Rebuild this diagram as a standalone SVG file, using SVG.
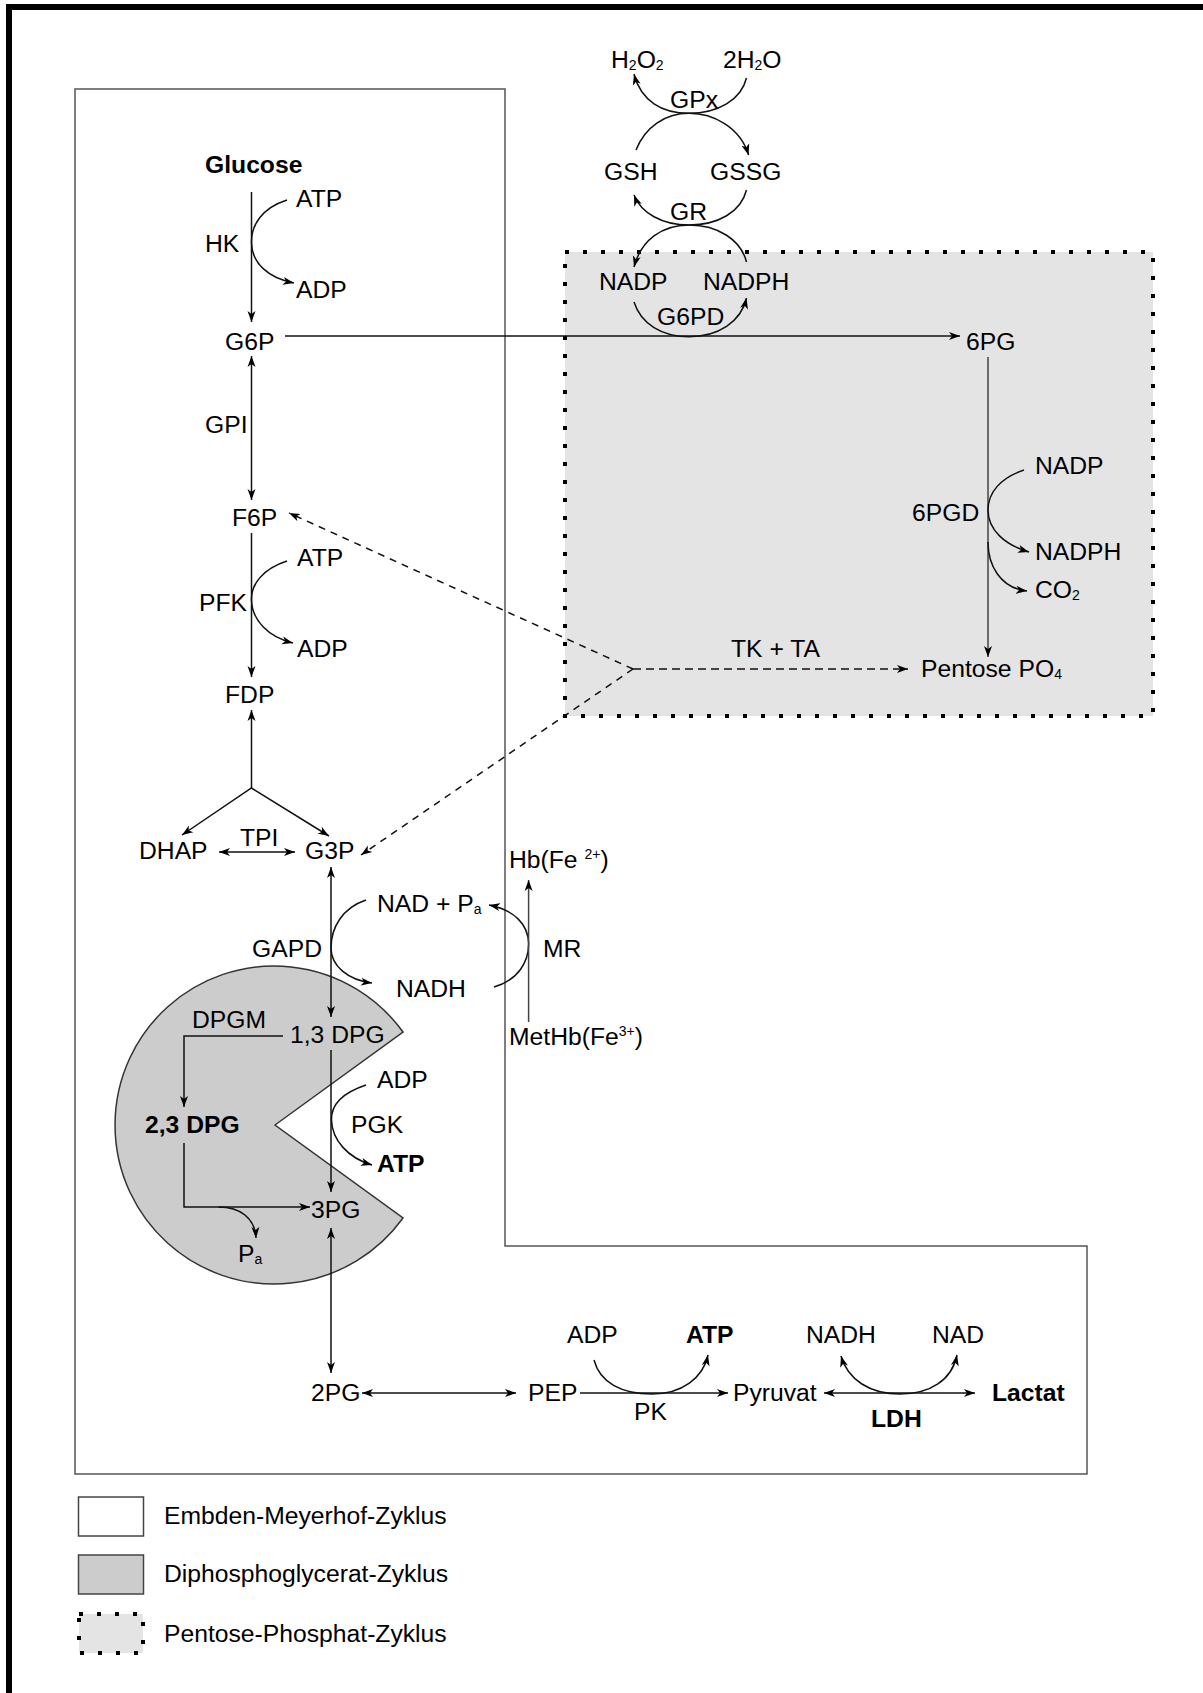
<svg xmlns="http://www.w3.org/2000/svg" width="1203" height="1693" viewBox="0 0 1203 1693">
<style>
text{font-family:"Liberation Sans",Arial,sans-serif;font-size:24.7px;fill:#000}
.b{font-weight:bold}
.s{font-size:14px}
.ln{fill:none;stroke:#111;stroke-width:1.5}
.g{stroke:#444}
.ds{fill:none;stroke:#111;stroke-width:1.5;stroke-dasharray:7 6}
.dot{stroke:#000;stroke-width:4;stroke-dasharray:4 14}
</style>
<defs>
<marker id="a" markerUnits="userSpaceOnUse" markerWidth="12" markerHeight="9" refX="11" refY="4" orient="auto-start-reverse" viewBox="0 0 12 8">
<path d="M0,0 L11,4 L0,8 L3,4 z" fill="#000"/>
</marker>
</defs>
<rect width="1203" height="1693" fill="#fff"/>
<path d="M9,1693 V7 H1203" fill="none" stroke="#000" stroke-width="6"/>

<g id="regions">
<path id="em-box" d="M75,89 H505 V1246 H1087 V1474 H75 Z" fill="none" stroke="#555" stroke-width="1.5"/>
<rect id="ppp-box" class="dot" x="565" y="252" width="588" height="464" fill="#e4e4e4"/>
<path id="dpg-cycle" d="M275,1125 L403,1032 A159,159 0 1 0 403,1218 Z" fill="#cccccc" stroke="#333" stroke-width="1.5"/>
</g>

<g id="connectors">
<line class="ln" x1="251.5" y1="192" x2="251.5" y2="322" marker-end="url(#a)"/>
<path class="ln" d="M287,200 C262,208 251,225 251.5,243 C252,263 268,278 294,283" marker-end="url(#a)"/>
<line class="ln" x1="251.5" y1="356" x2="251.5" y2="500" marker-start="url(#a)" marker-end="url(#a)"/>
<line class="ln" x1="285" y1="336" x2="960" y2="336" marker-end="url(#a)"/>
<line class="ln" x1="251.5" y1="533" x2="251.5" y2="677" marker-end="url(#a)"/>
<path class="ln" d="M287,561 C262,569 251,585 251.5,600 C252,620 268,637 293,643" marker-end="url(#a)"/>
<line class="ln" x1="251.5" y1="788" x2="251.5" y2="710" marker-end="url(#a)"/>
<path class="ln" d="M182,835 L251.5,788 L329,836" marker-start="url(#a)" marker-end="url(#a)"/>
<line class="ln" x1="219" y1="852" x2="295" y2="852" marker-start="url(#a)" marker-end="url(#a)"/>
<line class="ln" x1="331" y1="867" x2="331" y2="1017" marker-start="url(#a)" marker-end="url(#a)"/>
<path class="ln" d="M366,900 C342,908 331,928 331,948 C331,966 348,980 372,983" marker-end="url(#a)"/>
<path class="ln" d="M494,987 C518,980 529,962 528.6,943 C528,925 515,910 489,905" marker-end="url(#a)"/>
<line class="ln g" x1="528.6" y1="1022" x2="528.6" y2="880" marker-end="url(#a)"/>
<path class="ln" d="M283,1036 H184 V1107" marker-end="url(#a)"/>
<line class="ln" x1="331" y1="1050" x2="331" y2="1192" marker-end="url(#a)"/>
<path class="ln" d="M366,1085 C342,1093 331,1105 331.5,1120 C332,1140 348,1158 372,1165" marker-end="url(#a)"/>
<path class="ln" d="M184,1143 V1207 H310" marker-end="url(#a)"/>
<path class="ln" d="M218.6,1207 C240,1207 255,1218 256,1238" marker-end="url(#a)"/>
<line class="ln" x1="331" y1="1228" x2="331" y2="1373" marker-start="url(#a)" marker-end="url(#a)"/>
<line class="ln" x1="362" y1="1393" x2="516" y2="1393" marker-start="url(#a)" marker-end="url(#a)"/>
<line class="ln" x1="580" y1="1393" x2="728" y2="1393" marker-end="url(#a)"/>
<path class="ln" d="M594,1360 C600,1383 622,1394 652,1394 C682,1394 703,1378 708,1355" marker-end="url(#a)"/>
<line class="ln" x1="824" y1="1393" x2="975" y2="1393" marker-start="url(#a)" marker-end="url(#a)"/>
<path class="ln" d="M841,1356 C848,1380 870,1394 900,1394 C930,1394 952,1380 957,1355" marker-start="url(#a)" marker-end="url(#a)"/>
<path class="ln" d="M746.5,78 C741,100 718,113.3 689,113.3 C662,113.3 641,101 634,74" marker-end="url(#a)"/>
<path class="ln" d="M636,150 C645,127 665,113.3 689,113.3 C713,113.3 740,127 748.6,155" marker-end="url(#a)"/>
<path class="ln" d="M746.5,190 C741,212 718,225 689,225 C662,225 641,213 634,195" marker-end="url(#a)"/>
<path class="ln" d="M746.5,262 C741,240 718,225 689,225 C662,225 641,240 634,267" marker-end="url(#a)"/>
<path class="ln" d="M634,302 C641,324 662,336.7 689,336.7 C718,336.7 741,322 746.5,298" marker-end="url(#a)"/>
<line class="ln g" x1="988" y1="357" x2="988" y2="657" marker-end="url(#a)"/>
<path class="ln" d="M1024,470 C1000,478 988,493 988,510 C988,530 1005,545 1029,552" marker-end="url(#a)"/>
<path class="ln" d="M988,542 C988,565 1000,588 1027,591" marker-end="url(#a)"/>
<line class="ds" x1="633" y1="669" x2="289" y2="513" marker-end="url(#a)"/>
<line class="ds" x1="633" y1="669" x2="361" y2="855" marker-end="url(#a)"/>
<line class="ds" x1="633" y1="669" x2="908" y2="669" style="stroke-dasharray:8 5" marker-end="url(#a)"/>
</g>

<g id="nodes">
<text id="glucose" class="b" x="205" y="173">Glucose</text>
<text x="296" y="207">ATP</text>
<text x="205" y="252">HK</text>
<text x="296" y="298">ADP</text>
<text id="g6p" x="225" y="350">G6P</text>
<text x="205" y="433">GPI</text>
<text id="f6p" x="232" y="526">F6P</text>
<text x="297" y="566">ATP</text>
<text x="199" y="611">PFK</text>
<text x="297" y="657">ADP</text>
<text id="fdp" x="225" y="703">FDP</text>
<text id="dhap" x="139" y="859">DHAP</text>
<text x="240" y="846">TPI</text>
<text id="g3p" x="305" y="859">G3P</text>
<text x="377" y="912">NAD + P<tspan class="s" dy="2">a</tspan></text>
<text x="252" y="957">GAPD</text>
<text x="396" y="997">NADH</text>
<text x="543" y="957">MR</text>
<text x="509" y="868">Hb(Fe <tspan class="s" dy="-9">2+</tspan><tspan dy="9">)</tspan></text>
<text x="509" y="1045">MetHb(Fe<tspan class="s" dy="-9">3+</tspan><tspan dy="9">)</tspan></text>
<text x="192" y="1028">DPGM</text>
<text id="dpg13" x="290" y="1043">1,3 DPG</text>
<text id="dpg23" class="b" x="145" y="1133">2,3 DPG</text>
<text x="377" y="1088">ADP</text>
<text x="351" y="1133">PGK</text>
<text class="b" x="377" y="1172">ATP</text>
<text id="pg3" x="311" y="1218">3PG</text>
<text x="238" y="1262">P<tspan class="s" dy="2">a</tspan></text>
<text id="pg2" x="311" y="1401">2PG</text>
<text id="pep" x="528" y="1401">PEP</text>
<text x="567" y="1343">ADP</text>
<text class="b" x="686" y="1343">ATP</text>
<text x="634" y="1420">PK</text>
<text id="pyruvat" x="733" y="1401">Pyruvat</text>
<text x="806" y="1343">NADH</text>
<text x="932" y="1343">NAD</text>
<text class="b" x="871" y="1427">LDH</text>
<text id="lactat" class="b" x="992" y="1401">Lactat</text>
<text x="611" y="68">H<tspan class="s" dy="2">2</tspan><tspan dy="-2">O</tspan><tspan class="s" dy="2">2</tspan></text>
<text x="723" y="68">2H<tspan class="s" dy="2">2</tspan><tspan dy="-2">O</tspan></text>
<text x="670" y="108">GPx</text>
<text x="604" y="180">GSH</text>
<text x="710" y="180">GSSG</text>
<text x="670" y="220">GR</text>
<text x="599" y="290">NADP</text>
<text x="703" y="290">NADPH</text>
<text x="657" y="325">G6PD</text>
<text id="pg6" x="966" y="350">6PG</text>
<text x="1035" y="474">NADP</text>
<text x="912" y="521">6PGD</text>
<text x="1035" y="560">NADPH</text>
<text x="1035" y="598">CO<tspan class="s" dy="2">2</tspan></text>
<text x="731" y="657">TK + TA</text>
<text id="pentose" x="921" y="677">Pentose PO<tspan class="s" dy="2">4</tspan></text>
</g>

<g id="legend">
<rect x="78.5" y="1497" width="65" height="39" fill="#fff" stroke="#444" stroke-width="1.5"/>
<text x="164" y="1524">Embden-Meyerhof-Zyklus</text>
<rect x="78.5" y="1555" width="65" height="39" fill="#cccccc" stroke="#444" stroke-width="1.5"/>
<text x="164" y="1582">Diphosphoglycerat-Zyklus</text>
<rect class="dot" x="79" y="1614" width="64" height="39" fill="#e4e4e4"/>
<text x="164" y="1642">Pentose-Phosphat-Zyklus</text>
</g>
</svg>
